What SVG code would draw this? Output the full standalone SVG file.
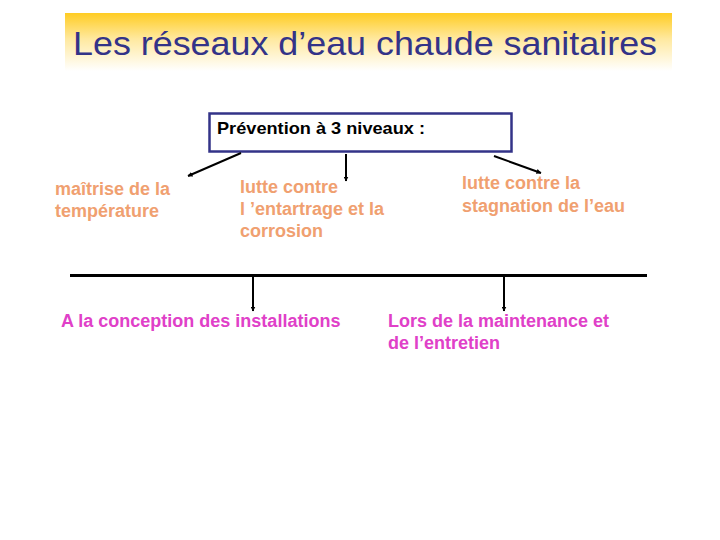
<svg xmlns="http://www.w3.org/2000/svg" width="720" height="540" viewBox="0 0 720 540">
<defs>
<linearGradient id="band" x1="0" y1="0" x2="0" y2="1">
<stop offset="0" stop-color="#FFCC22"/>
<stop offset="0.45" stop-color="#FFE9A0"/>
<stop offset="1" stop-color="#FFFFFF"/>
</linearGradient>
<marker id="ah" viewBox="0 0 10 10" refX="9" refY="5" markerWidth="5" markerHeight="5" orient="auto" markerUnits="userSpaceOnUse">
<path d="M0,0 L10,5 L0,10 z" fill="#000"/>
</marker>
<style>
.t{font-family:"Liberation Sans",Arial,sans-serif;}
.title{font-size:34px;fill:#333388;}
.box{font-size:17px;font-weight:bold;fill:#000;}
.or{font-size:18px;font-weight:bold;fill:#F0A070;}
.mg{font-size:18px;font-weight:bold;fill:#E040C8;}
.c{stroke:#000;stroke-width:2;fill:none;}
</style>
</defs>
<rect x="0" y="0" width="720" height="540" fill="#fff"/>
<g id="title">
<rect x="65" y="13" width="607" height="58" fill="url(#band)"/>
<text class="t title" x="73" y="55" textLength="584" lengthAdjust="spacingAndGlyphs">Les réseaux d’eau chaude sanitaires</text>
</g>
<g id="prevention">
<rect x="209.5" y="113.5" width="302" height="38" fill="#fff" stroke="#333388" stroke-width="2.5"/>
<text class="t box" x="217" y="134" textLength="208" lengthAdjust="spacingAndGlyphs">Prévention à 3 niveaux :</text>
</g>
<g id="temperature">
<text class="t or" x="55" y="195">maîtrise de la</text>
<text class="t or" x="55" y="217">température</text>
</g>
<g id="entartrage">
<text class="t or" x="240" y="193">lutte contre</text>
<text class="t or" x="240" y="215">l ’entartrage et la</text>
<text class="t or" x="240" y="237">corrosion</text>
</g>
<g id="stagnation">
<text class="t or" x="462" y="189">lutte contre la</text>
<text class="t or" x="462" y="212">stagnation de l’eau</text>
</g>
<g id="conception">
<text class="t mg" x="61" y="327">A la conception des installations</text>
</g>
<g id="maintenance">
<text class="t mg" x="388" y="327">Lors de la maintenance et</text>
<text class="t mg" x="388" y="349">de l’entretien</text>
</g>
<g id="connectors">
<line class="c" x1="241" y1="153" x2="188" y2="176" marker-end="url(#ah)"/>
<line class="c" x1="346" y1="154" x2="346" y2="181" marker-end="url(#ah)"/>
<line class="c" x1="494" y1="156" x2="541" y2="173" marker-end="url(#ah)"/>
<line x1="70" y1="275.5" x2="647" y2="275.5" stroke="#000" stroke-width="3"/>
<line class="c" x1="253" y1="277" x2="253" y2="311" marker-end="url(#ah)"/>
<line class="c" x1="504" y1="277" x2="504" y2="311" marker-end="url(#ah)"/>
</g>
</svg>
